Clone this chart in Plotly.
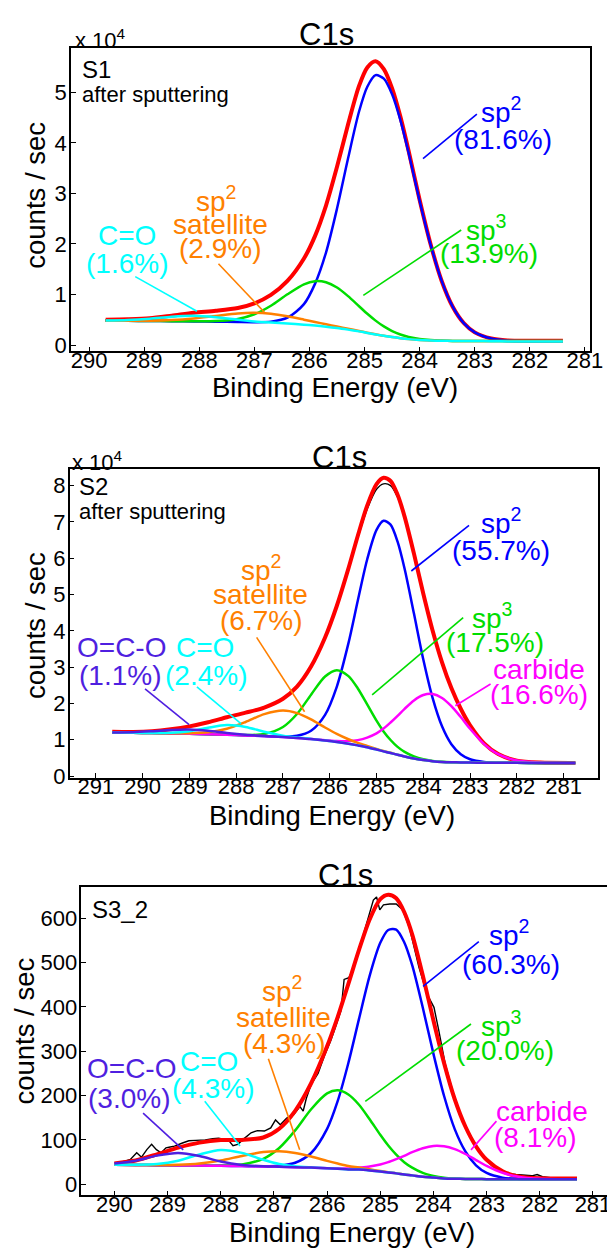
import plotly.graph_objects as go

W, H = 615, 1250
FONT = "Liberation Sans, Arial, Helvetica, sans-serif"

# ---------------- Panel S1 (values in units of 1e4 counts/sec) ----------------
s1_energy = [289.7, 289.3, 288.9, 288.5, 288.1, 287.7, 287.3, 287.0, 286.7, 286.4, 286.1, 285.9,
             285.7, 285.5, 285.3, 285.1, 284.95, 284.8, 284.65, 284.5, 284.35, 284.2, 284.0,
             283.8, 283.6, 283.4, 283.2, 283.0, 282.7, 282.4, 282.0, 281.4]
s1_black = [0.50, 0.505, 0.53, 0.585, 0.64, 0.68, 0.74, 0.835, 1.0, 1.28, 1.72, 2.17, 2.78, 3.55,
            4.38, 5.14, 5.51, 5.61, 5.45, 5.07, 4.51, 3.83, 2.86, 1.98, 1.26, 0.76, 0.44, 0.25,
            0.13, 0.09, 0.08, 0.08]
s1_envelope = [0.50, 0.51, 0.53, 0.582, 0.639, 0.677, 0.732, 0.824, 0.991, 1.268, 1.712, 2.155,
               2.759, 3.526, 4.364, 5.127, 5.493, 5.616, 5.458, 5.077, 4.519, 3.84, 2.869, 1.988,
               1.268, 0.758, 0.435, 0.25, 0.128, 0.091, 0.085, 0.085]
s1_sp2 = [0.48, 0.478, 0.475, 0.472, 0.468, 0.462, 0.455, 0.452, 0.463, 0.54, 0.81, 1.21, 1.83,
          2.70, 3.69, 4.62, 5.11, 5.34, 5.27, 4.96, 4.45, 3.80, 2.85, 1.98, 1.27, 0.76, 0.435,
          0.25, 0.128, 0.091, 0.08, 0.08]
s1_sp3 = [0.48, 0.478, 0.475, 0.472, 0.47, 0.474, 0.517, 0.609, 0.778, 1.004, 1.202, 1.264,
          1.242, 1.137, 0.967, 0.768, 0.618, 0.483, 0.368, 0.277, 0.209, 0.16, 0.119, 0.098,
          0.088, 0.082, 0.081, 0.08, 0.08, 0.08, 0.08, 0.08]
s1_sat = [0.48, 0.479, 0.481, 0.494, 0.527, 0.577, 0.625, 0.637, 0.617, 0.568, 0.502, 0.456,
          0.41, 0.366, 0.322, 0.279, 0.245, 0.213, 0.182, 0.157, 0.135, 0.117, 0.1, 0.09, 0.085,
          0.082, 0.081, 0.08, 0.08, 0.08, 0.08, 0.08]
s1_co = [0.483, 0.493, 0.52, 0.56, 0.578, 0.55, 0.50, 0.467, 0.444, 0.425, 0.402, 0.385, 0.363,
         0.337, 0.305, 0.27, 0.24, 0.21, 0.182, 0.157, 0.135, 0.117, 0.1, 0.09, 0.085, 0.082,
         0.081, 0.08, 0.075, 0.072, 0.07, 0.07]

# ---------------- Panel S2 (values in units of 1e4 counts/sec) ----------------
s2_energy = [290.65, 290.2, 289.8, 289.4, 289.0, 288.6, 288.2, 287.8, 287.4, 287.0, 286.7, 286.4,
             286.1, 285.85, 285.6, 285.4, 285.2, 285.0, 284.85, 284.7, 284.55, 284.4, 284.2,
             284.0, 283.8, 283.6, 283.4, 283.2, 283.0, 282.7, 282.4, 282.0, 281.5, 280.75]
s2_black = [1.20, 1.205, 1.235, 1.29, 1.37, 1.48, 1.62, 1.745, 1.89, 2.13, 2.46, 3.01, 3.80, 4.66,
            5.68, 6.56, 7.35, 7.90, 8.05, 8.0, 7.68, 7.12, 6.15, 5.07, 4.06, 3.18, 2.46, 1.87,
            1.40, 0.90, 0.60, 0.43, 0.37, 0.36]
s2_envelope = [1.22, 1.215, 1.236, 1.29, 1.369, 1.482, 1.619, 1.746, 1.888, 2.13, 2.463, 3.015,
               3.815, 4.684, 5.719, 6.618, 7.447, 8.04, 8.217, 8.128, 7.747, 7.147, 6.126, 5.022,
               4.002, 3.132, 2.422, 1.853, 1.396, 0.901, 0.605, 0.426, 0.37, 0.36]
s2_sp2 = [1.20, 1.19, 1.185, 1.175, 1.165, 1.153, 1.137, 1.12, 1.10, 1.087, 1.109, 1.248, 1.686,
          2.458, 3.66, 4.835, 5.965, 6.78, 7.03, 6.925, 6.455, 5.71, 4.475, 3.21, 2.145, 1.369,
          0.877, 0.603, 0.464, 0.387, 0.368, 0.363, 0.362, 0.36]
s2_sp3 = [1.20, 1.19, 1.185, 1.175, 1.165, 1.153, 1.138, 1.128, 1.159, 1.352, 1.709, 2.242, 2.742,
          2.916, 2.753, 2.413, 1.975, 1.526, 1.23, 0.993, 0.803, 0.665, 0.539, 0.461, 0.417,
          0.392, 0.38, 0.375, 0.37, 0.367, 0.365, 0.363, 0.362, 0.36]
s2_carbide = [1.20, 1.19, 1.185, 1.175, 1.165, 1.153, 1.137, 1.12, 1.10, 1.075, 1.05, 1.022, 0.989,
              0.968, 0.963, 0.99, 1.06, 1.176, 1.307, 1.475, 1.659, 1.852, 2.082, 2.231, 2.26,
              2.151, 1.925, 1.625, 1.302, 0.881, 0.602, 0.426, 0.37, 0.36]
s2_sat = [1.20, 1.19, 1.185, 1.177, 1.178, 1.207, 1.303, 1.489, 1.706, 1.804, 1.734, 1.56, 1.338,
          1.162, 1.013, 0.915, 0.832, 0.748, 0.69, 0.64, 0.585, 0.54, 0.485, 0.44, 0.41, 0.39,
          0.38, 0.375, 0.37, 0.367, 0.365, 0.363, 0.362, 0.36]
s2_co = [1.20, 1.19, 1.187, 1.192, 1.236, 1.332, 1.403, 1.353, 1.22, 1.112, 1.061, 1.023, 0.98,
         0.94, 0.89, 0.845, 0.795, 0.73, 0.68, 0.635, 0.585, 0.54, 0.485, 0.44, 0.41, 0.39, 0.38,
         0.375, 0.37, 0.367, 0.365, 0.363, 0.362, 0.36]
s2_occo = [1.203, 1.206, 1.234, 1.271, 1.285, 1.249, 1.186, 1.136, 1.103, 1.075, 1.05, 1.02, 0.98,
           0.94, 0.89, 0.845, 0.795, 0.73, 0.68, 0.635, 0.585, 0.54, 0.485, 0.44, 0.41, 0.39,
           0.38, 0.375, 0.37, 0.367, 0.365, 0.363, 0.362, 0.36]

# ---------------- Panel S3_2 (counts/sec) ----------------
s3_energy = [290.0, 289.6, 289.2, 288.8, 288.4, 288.0, 287.6, 287.2, 286.9, 286.6, 286.3, 286.0,
             285.8, 285.6, 285.4, 285.2, 285.0, 284.85, 284.7, 284.55, 284.4, 284.2, 284.0, 283.8,
             283.6, 283.4, 283.2, 283.0, 282.7, 282.4, 282.0, 281.3]
s3_envelope = [47, 53.7, 67.4, 82.6, 93.9, 99.8, 100, 105.4, 125.2, 165.5, 227.8, 311, 377.6,
               452.1, 528.6, 597.2, 643, 653, 645, 614, 563.7, 470.7, 369.3, 273.2, 191.7, 130.2,
               85.6, 55.3, 29.4, 17.7, 13.5, 13]
s3_sp2 = [44, 43.5, 43, 42.5, 42, 41.5, 41, 40.5, 41.9, 48.5, 70.5, 125, 188, 273.5, 373, 470,
          544.5, 573.5, 574.5, 546, 494, 398, 294, 199, 124.3, 74, 42.7, 25.5, 14.9, 12, 11, 11]
s3_sp3 = [44, 43.5, 43, 42.5, 42.1, 42.1, 44.8, 57.4, 81.8, 121.5, 169.2, 204.9, 212, 202.4,
          179.4, 146.6, 111.5, 87.4, 66.8, 49.8, 37.4, 25.5, 18.8, 14.6, 12.8, 12, 11.7, 11.5,
          11.3, 11.2, 11, 11]
s3_carbide = [44, 43.5, 43, 42.5, 42, 41.5, 41, 40, 39.5, 38.5, 37.6, 36.3, 35.9, 35.6, 37.6, 40,
              44.6, 49.9, 56.8, 64.2, 72.3, 81.2, 86.5, 85.6, 79.2, 68.2, 54.6, 41.3, 25.8, 16.9,
              12.2, 11]
s3_sat = [44, 43.6, 43.3, 44, 46.9, 53.7, 63.9, 72.5, 74.5, 70.6, 62.6, 52.8, 46.7, 41.1, 37.6,
          33.6, 29.9, 27.3, 24.9, 22, 20, 17, 15, 13, 12.3, 12, 11.7, 11.5, 11.3, 11.2, 11, 11]
s3_co = [44, 43.9, 45.6, 53.1, 67.4, 77.3, 70.7, 55.1, 45.5, 40.4, 37.9, 36, 35, 33.5, 33, 31,
         28.5, 26.5, 24.5, 22, 20, 17, 15, 13, 12.3, 12, 11.7, 11.5, 11.3, 11.2, 11, 11]
s3_occo = [46.6, 53.2, 64.5, 70.5, 63.5, 51.2, 43.6, 40.4, 39.5, 38.5, 37.5, 36, 35, 33.5, 33, 31,
           28.5, 26.5, 24.5, 22, 20, 17, 15, 13, 12.3, 12, 11.7, 11.5, 11.3, 11.2, 11, 11]
# measured (noisy) spectrum
s3_data_energy = [290.0, 289.9, 289.8, 289.7, 289.58, 289.49, 289.39, 289.30, 289.21, 289.12,
                  289.03, 288.95, 288.87, 288.72, 288.60, 288.47, 288.29, 288.15, 288.04, 287.93,
                  287.86, 287.77, 287.68, 287.55, 287.43, 287.31, 287.18, 287.06, 286.97, 286.88,
                  286.76, 286.63, 286.51, 286.45, 286.39, 286.30, 286.17, 286.05, 285.93, 285.84,
                  285.74, 285.68, 285.59, 285.50, 285.37, 285.25, 285.13, 285.07, 285.01, 284.94,
                  284.82, 284.70, 284.58, 284.45, 284.36, 284.27, 284.12, 283.99, 283.90, 283.78,
                  283.65, 283.5, 283.35, 283.2, 283.05, 282.9, 282.75, 282.6, 282.45, 282.3,
                  282.15, 282.05, 281.95, 281.8, 281.65, 281.5, 281.3]
s3_data_counts = [47, 49, 52, 56, 71, 61, 78, 90, 78, 71, 82, 84, 86, 93, 98, 99, 100, 103, 104,
                  101, 100, 87, 90, 104, 116, 121, 120, 127, 145, 134, 149, 157, 175, 165, 194,
                  225, 250, 290, 324, 355, 391, 462, 466, 488, 540, 592, 641, 648, 619, 630, 632,
                  632, 619, 578, 535, 488, 429, 399, 347, 272, 215, 160, 120, 88, 60, 42, 30, 24,
                  22, 21, 19, 22, 17, 15, 14, 14, 13]

# tick labels
s1_xticks = [290, 289, 288, 287, 286, 285, 284, 283, 282, 281]
s2_xticks = [291, 290, 289, 288, 287, 286, 285, 284, 283, 282, 281]
s3_xticks = [290, 289, 288, 287, 286, 285, 284, 283, 282, 281]
s1_yticks = [0, 1, 2, 3, 4, 5]
s2_yticks = [0, 1, 2, 3, 4, 5, 6, 7, 8]
s3_yticks = [0, 100, 200, 300, 400, 500, 600]

RED, BLUE, GREEN, ORANGE = "#ff0000", "#0000ff", "#00dd00", "#ff8000"
CYAN, MAGENTA, PURPLE = "#00ffff", "#ff00ff", "#4f1fe0"

fig = go.Figure()


def add_line(x, y, color, width, ax, shape="spline"):
    fig.add_trace(go.Scatter(x=x, y=y, mode="lines",
                             line=dict(color=color, width=width, shape=shape,
                                       smoothing=0.8 if shape == "spline" else None),
                             xaxis="x" + ax, yaxis="y" + ax, hoverinfo="skip"))


# panel 1
add_line(s1_energy, s1_black, "black", 1.3, "")
add_line(s1_energy, s1_envelope, RED, 4, "")
add_line(s1_energy, s1_sp2, BLUE, 2.5, "")
add_line(s1_energy, s1_sp3, GREEN, 2.5, "")
add_line(s1_energy, s1_sat, ORANGE, 2.5, "")
add_line(s1_energy, s1_co, CYAN, 2.5, "")
# panel 2
add_line(s2_energy, s2_black, "black", 1.3, "2")
add_line(s2_energy, s2_envelope, RED, 4, "2")
add_line(s2_energy, s2_sp2, BLUE, 2.5, "2")
add_line(s2_energy, s2_sp3, GREEN, 2.5, "2")
add_line(s2_energy, s2_carbide, MAGENTA, 2.5, "2")
add_line(s2_energy, s2_sat, ORANGE, 2.5, "2")
add_line(s2_energy, s2_co, CYAN, 2.5, "2")
add_line(s2_energy, s2_occo, PURPLE, 2.5, "2")
# panel 3
add_line(s3_data_energy, s3_data_counts, "black", 1.4, "3", shape="linear")
add_line(s3_energy, s3_envelope, RED, 4, "3")
add_line(s3_energy, s3_sp2, BLUE, 2.5, "3")
add_line(s3_energy, s3_sp3, GREEN, 2.5, "3")
add_line(s3_energy, s3_carbide, MAGENTA, 2.5, "3")
add_line(s3_energy, s3_sat, ORANGE, 2.5, "3")
add_line(s3_energy, s3_co, CYAN, 2.5, "3")
add_line(s3_energy, s3_occo, PURPLE, 2.5, "3")


def xax(dom, rng, anchor, ticks):
    return dict(domain=[dom[0] / W, dom[1] / W], range=rng, anchor=anchor,
                tickvals=ticks, ticktext=[str(t) for t in ticks],
                showline=True, linecolor="black", linewidth=1.6, mirror=True,
                ticks="inside", ticklen=5, tickwidth=1.2, tickcolor="black",
                showgrid=False, zeroline=False, ticklabelstandoff=-12,
                tickfont=dict(family=FONT, size=22, color="black"))


def yax(dom, rng, anchor, ticks, mirror=True):
    return dict(domain=[1 - dom[1] / H, 1 - dom[0] / H], range=rng, anchor=anchor,
                tickvals=ticks, ticktext=[str(t) for t in ticks],
                showline=True, linecolor="black", linewidth=1.6, mirror=mirror,
                ticks="inside", ticklen=5, tickwidth=1.2, tickcolor="black",
                showgrid=False, zeroline=False, ticklabelstandoff=-2,
                tickfont=dict(family=FONT, size=22, color="black"))


fig.update_layout(
    width=W, height=H, margin=dict(l=0, r=0, t=0, b=0),
    paper_bgcolor="white", plot_bgcolor="white", showlegend=False,
    xaxis=xax((64.3, 595), [290.33, 280.90], "y", s1_xticks),
    yaxis=yax((40.7, 346.5), [-0.127, 5.87], "x", s1_yticks),
    xaxis2=xax((63, 603), [291.56, 280.26], "y2", s2_xticks),
    yaxis2=yax((465, 776.7), [-0.05, 8.46], "x2", s2_yticks),
    xaxis3=xax((75, 615), [290.62, 280.68], "y3", s3_xticks),
    yaxis3=yax((887, 1198), [-25.3, 670], "x3", s3_yticks, mirror=False),
)


def txt(x, y, s, size, color="black", xanchor="center", angle=0):
    fig.add_annotation(xref="paper", yref="paper", x=x / W, y=1 - y / H, text=s,
                       showarrow=False, xanchor=xanchor, yanchor="middle", textangle=angle,
                       font=dict(family=FONT, size=size, color=color))


def lead(x0, y0, x1, y1, color):
    fig.add_shape(type="line", xref="paper", yref="paper", x0=x0 / W, y0=1 - y0 / H,
                  x1=x1 / W, y1=1 - y1 / H, line=dict(color=color, width=1.6))


SP2 = "sp<sup>2</sup>"
SP3 = "sp<sup>3</sup>"
LBL = 28
TTL = 31
AXT = 27.5

# ---- panel 1 texts
txt(325, 27, "C1s", TTL)
txt(66, 31, "x 10<sup>4</sup>", 22, xanchor="left")
txt(74, 62, "S1", 24, xanchor="left")
txt(74, 87, "after sputtering", 22, xanchor="left")
txt(334, 383, "Binding Energy (eV)", AXT)
txt(28, 189, "counts / sec", AXT, angle=-90)
txt(504, 103, SP2, LBL, BLUE)
txt(506, 133, "(81.6%)", LBL, BLUE)
lead(479, 107, 424, 152, BLUE)
txt(489, 222, SP3, LBL, GREEN)
txt(491, 248, "(13.9%)", LBL, GREEN)
lead(463, 224, 363, 290, GREEN)
txt(213, 193, SP2, LBL, ORANGE)
txt(217, 218, "satellite", LBL, ORANGE)
txt(217, 243, "(2.9%)", LBL, ORANGE)
lead(215, 258, 262, 307, ORANGE)
txt(122, 230, "C=O", LBL, CYAN)
txt(122, 258, "(1.6%)", LBL, CYAN)
lead(130, 271, 193, 306, CYAN)

# ---- panel 2 texts
txt(339, 453, "C1s", TTL)
txt(63, 457, "x 10<sup>4</sup>", 22, xanchor="left")
txt(70, 483, "S2", 24, xanchor="left")
txt(70, 508, "after sputtering", 22, xanchor="left")
txt(331, 815, "Binding Energy (eV)", AXT)
txt(28, 623, "counts / sec", AXT, angle=-90)
txt(504, 518, SP2, LBL, BLUE)
txt(504, 547, "(55.7%)", LBL, BLUE)
lead(471, 522, 412, 568, BLUE)
txt(495, 613, SP3, LBL, GREEN)
txt(498, 640, "(17.5%)", LBL, GREEN)
lead(465, 615, 372, 693, GREEN)
txt(542, 667, "carbide", LBL, MAGENTA)
txt(542, 693, "(16.6%)", LBL, MAGENTA)
lead(493, 682, 457, 704, MAGENTA)
txt(258, 565, SP2, LBL, ORANGE)
txt(258, 592, "satellite", LBL, ORANGE)
txt(258, 618, "(6.7%)", LBL, ORANGE)
lead(254, 635, 303, 710, ORANGE)
txt(201, 645, "C=O", LBL, CYAN)
txt(202, 673, "(2.4%)", LBL, CYAN)
lead(193, 685, 238, 722, CYAN)
txt(116, 645, "O=C-O", LBL, PURPLE)
txt(114, 673, "(1.1%)", LBL, PURPLE)
lead(140, 687, 185, 723, PURPLE)

# ---- panel 3 texts
txt(345, 875, "C1s", TTL)
txt(84, 910, "S3_2", 24, xanchor="left")
txt(351, 1235, "Binding Energy (eV)", AXT)
txt(17, 1032, "counts / sec", AXT, angle=-90)
txt(512, 933, SP2, LBL, BLUE)
txt(514, 965, "(60.3%)", LBL, BLUE)
lead(481, 942, 424, 987, BLUE)
txt(504, 1025, SP3, LBL, GREEN)
txt(508, 1052, "(20.0%)", LBL, GREEN)
lead(473, 1025, 365, 1103, GREEN)
txt(546, 1113, "carbide", LBL, MAGENTA)
txt(538, 1140, "(8.1%)", LBL, MAGENTA)
lead(499, 1123, 473, 1152, MAGENTA)
txt(280, 990, SP2, LBL, ORANGE)
txt(281, 1018, "satellite", LBL, ORANGE)
txt(282, 1045, "(4.3%)", LBL, ORANGE)
lead(266, 1060, 298, 1152, ORANGE)
txt(205, 1063, "C=O", LBL, CYAN)
txt(209, 1090, "(4.3%)", LBL, CYAN)
lead(201, 1103, 237, 1148, CYAN)
txt(126, 1070, "O=C-O", LBL, PURPLE)
txt(124, 1100, "(3.0%)", LBL, PURPLE)
lead(138, 1115, 179, 1152, PURPLE)

fig.write_html("out.html")
